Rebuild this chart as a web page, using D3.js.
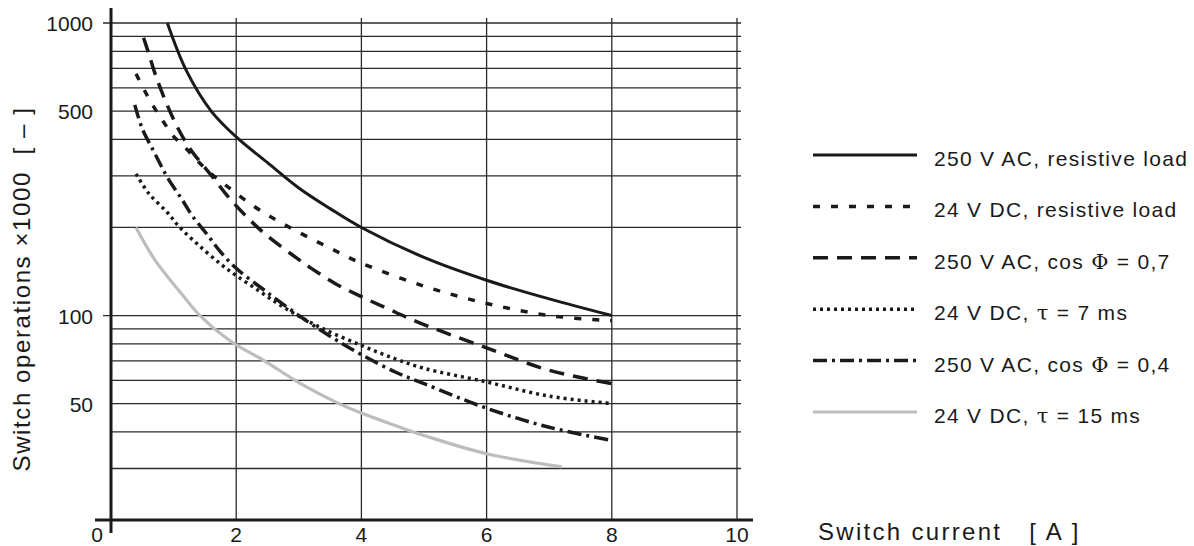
<!DOCTYPE html>
<html>
<head>
<meta charset="utf-8">
<title>Switch operations</title>
<script src="https://d3js.org/d3.v7.min.js"></script>
<style>
  body { margin: 0; background: #fff; }
  text { font-family: "Liberation Sans", Arial, sans-serif; fill: #1a1a1a; }
  .tick-label { font-size: 21px; }
  .title { font-size: 24px; letter-spacing: 1.6px; }
  .legend-label { font-size: 21px; letter-spacing: 1.3px; }
  .greek { font-family: "DejaVu Serif", serif; }
</style>
</head>
<body>
<script>
// values (current in A, operations x1000)
var labels = ["250 V AC, resistive load", "24 V DC, resistive load", "250 V AC, cos \u03a6 = 0,7",
              "24 V DC, \u03c4 = 7 ms", "250 V AC, cos \u03a6 = 0,4", "24 V DC, \u03c4 = 15 ms"];

var iAcRes = [0.9, 1.2, 1.6, 2.0, 2.5, 3.0, 3.5, 4.0, 5.0, 6.0, 7.0, 8.0];
var nAcRes = [1000, 690, 500, 408, 333, 273, 232, 200, 158, 132, 114, 100];

var iDcRes = [0.4, 0.55, 0.7, 0.85, 1.0, 1.2, 1.4, 1.6, 1.85, 2.3, 2.8, 3.5, 4.0, 5.0, 6.0, 7.0, 8.0];
var nDcRes = [670, 580, 510, 455, 410, 372, 335, 305, 277, 235, 203, 170, 151, 126, 110, 100, 96];

var iAc07 = [0.52, 0.6, 0.7, 0.85, 1.05, 1.25, 1.45, 1.6, 1.85, 2.2, 2.5, 2.9, 3.2, 3.6, 4.0, 4.4, 4.9, 6.0, 7.0, 8.0];
var nAc07 = [890, 790, 675, 555, 445, 375, 330, 302, 258, 214, 187, 161, 145, 128, 116, 106, 95, 77.5, 65, 58.5];

var iDc7 = [0.4, 0.6, 0.9, 1.1, 1.4, 1.75, 2.0, 2.35, 2.75, 3.3, 4.0, 4.55, 5.0, 6.0, 7.0, 8.0];
var nDc7 = [305, 262, 225, 200, 174, 150, 137, 122, 107, 92, 79, 71, 66, 59.3, 53, 50];

var iAc04 = [0.38, 0.5, 0.68, 0.8, 0.92, 1.13, 1.3, 1.53, 1.74, 2.0, 2.45, 3.0, 3.5, 4.0, 4.55, 5.0, 6.0, 7.0, 8.0];
var nAc04 = [525, 435, 365, 325, 292, 250, 219, 190, 166, 145, 122, 100, 85, 73.5, 64, 58.5, 48.2, 41.5, 37.4];

var iDc15 = [0.4, 0.7, 1.15, 1.42, 1.9, 2.45, 3.0, 3.6, 4.0, 4.55, 5.0, 6.0, 7.2];
var nDc15 = [200, 155, 117, 100, 82, 70, 59, 50.5, 46.4, 42, 38.9, 33.7, 30.4];

var xTicks = [0, 2, 4, 6, 8, 10];
var yTickLabels = [1000, 500, 100, 50];
var yGrid = [30, 40, 50, 60, 70, 80, 90, 100, 200, 300, 400, 500, 600, 700, 800, 900, 1000];

var curves = [[iAcRes, nAcRes], [iDcRes, nDcRes], [iAc07, nAc07], [iDc7, nDc7], [iAc04, nAc04], [iDc15, nDc15]];
var strokes = ["#1a1a1a", "#1a1a1a", "#1a1a1a", "#1a1a1a", "#1a1a1a", "#bdbdbd"];
var widths = [3, 3.5, 3.5, 3.5, 3.5, 3.2];
var dashes = [null, "7,11", "15,9", "3,4", "14,5,3,5", null];

var width = 1194, height = 546;
var svg = d3.select("body").append("svg").attr("width", width).attr("height", height);

var x = d3.scaleLinear().domain([0, 10]).range([111, 737]);
var y = d3.scaleLog().domain([20, 1000]).range([520, 23]);

// grid
svg.append("g").selectAll("line").data(yGrid).enter().append("line")
   .attr("x1", function(d){ return (d === 1000 || d === 100) ? 103 : x(0); })
   .attr("x2", 741)
   .attr("y1", function(d){ return y(d); }).attr("y2", function(d){ return y(d); })
   .attr("stroke", "#2a2a2a").attr("stroke-width", 1.3);

svg.append("g").selectAll("line").data(xTicks.slice(1)).enter().append("line")
   .attr("x1", function(d){ return x(d); }).attr("x2", function(d){ return x(d); })
   .attr("y1", 18).attr("y2", 520)
   .attr("stroke", "#2a2a2a").attr("stroke-width", 1.3);

// axes lines
svg.append("line").attr("x1", x(0)).attr("x2", x(0)).attr("y1", 8).attr("y2", 533)
   .attr("stroke", "#1a1a1a").attr("stroke-width", 3);
svg.append("line").attr("x1", 95).attr("x2", 753).attr("y1", 520).attr("y2", 520)
   .attr("stroke", "#1a1a1a").attr("stroke-width", 3);

// tick labels
svg.append("g").selectAll("text").data(xTicks).enter().append("text")
   .classed("tick-label", true)
   .attr("x", function(d){ return d === 0 ? 97 : x(d); })
   .attr("y", 542).attr("text-anchor", "middle")
   .text(function(d){ return d; });

svg.append("g").selectAll("text").data(yTickLabels).enter().append("text")
   .classed("tick-label", true)
   .attr("x", 93).attr("y", function(d){ return y(d) + 8; })
   .attr("text-anchor", "end")
   .text(function(d){ return d; });

// axis titles
svg.append("text").classed("title", true)
   .attr("transform", "translate(30,289) rotate(-90)")
   .attr("text-anchor", "middle")
   .attr("xml:space", "preserve")
   .text("Switch operations \u00d71000  [ \u2013 ]");

svg.append("text").classed("title", true)
   .attr("x", 818).attr("y", 540)
   .style("letter-spacing", "2.3px")
   .attr("xml:space", "preserve")
   .text("Switch current   [ A ]");

// curves
var line = d3.line()
   .x(function(d){ return x(d[0]); })
   .y(function(d){ return y(d[1]); })
   .curve(d3.curveCatmullRom.alpha(0.5));

svg.append("g").selectAll("path").data(curves).enter().append("path")
   .attr("d", function(c){ return line(c[0].map(function(v, i){ return [v, c[1][i]]; })); })
   .attr("fill", "none")
   .attr("stroke", function(d, i){ return strokes[i]; })
   .attr("stroke-width", function(d, i){ return widths[i]; })
   .attr("stroke-dasharray", function(d, i){ return dashes[i]; });

// legend
var ly = d3.scalePoint().domain(labels).range([155, 412]);
var legend = svg.append("g").selectAll("g").data(labels).enter().append("g")
   .attr("transform", function(d){ return "translate(0," + ly(d) + ")"; });

legend.append("line").attr("x1", 813).attr("x2", 917).attr("y1", 0).attr("y2", 0)
   .attr("stroke", function(d, i){ return strokes[i]; })
   .attr("stroke-width", function(d, i){ return widths[i]; })
   .attr("stroke-dasharray", function(d, i){ return dashes[i]; });

legend.append("text").classed("legend-label", true)
   .attr("x", 934).attr("y", 11)
   .each(function(d){
       var t = d3.select(this);
       d.split(/([\u03a6\u03c4])/).forEach(function(part){
           if (!part) return;
           var s = t.append("tspan").text(part);
           if (part === "\u03a6" || part === "\u03c4") s.classed("greek", true);
       });
   });
</script>
</body>
</html>
